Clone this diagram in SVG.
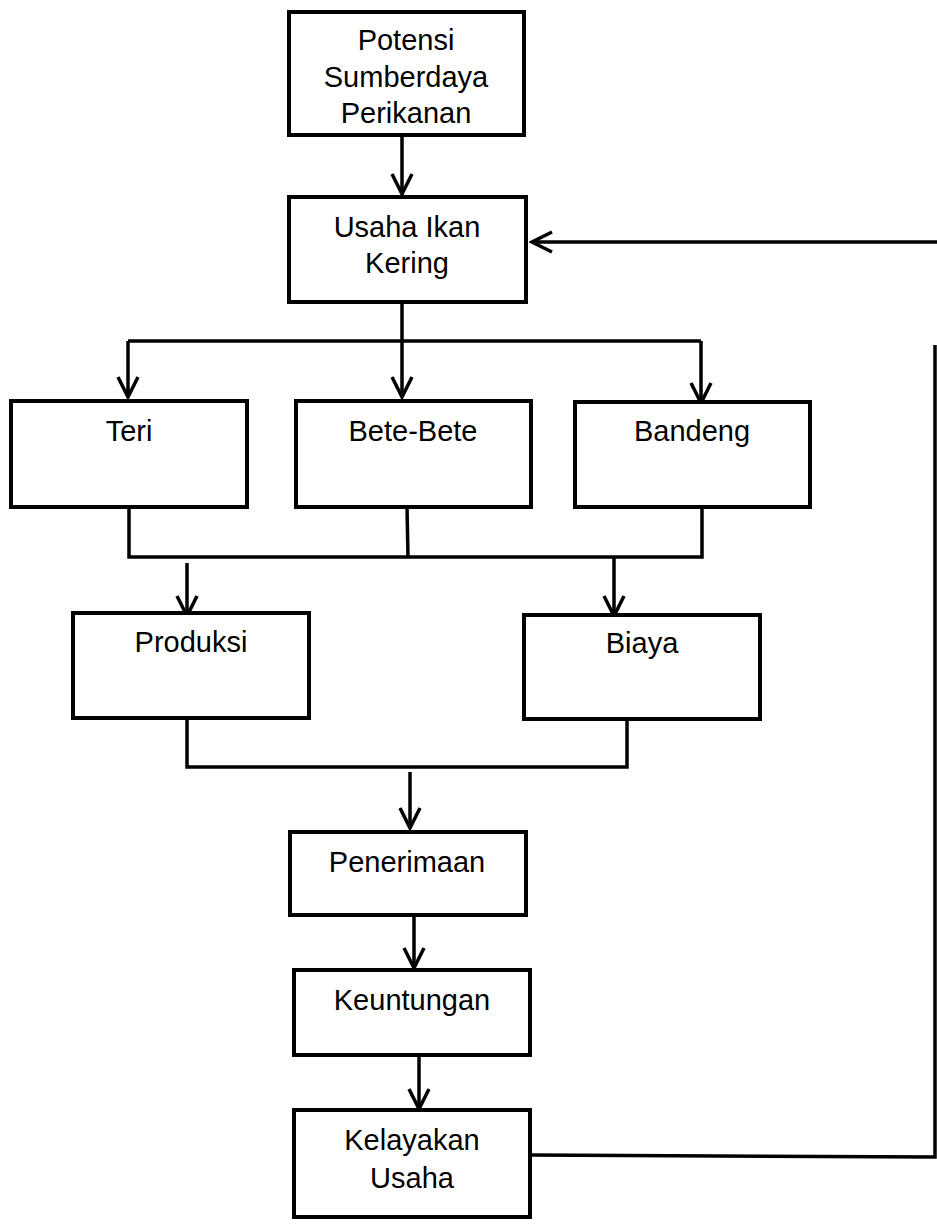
<svg xmlns="http://www.w3.org/2000/svg" width="937" height="1225" viewBox="0 0 937 1225">
<style>
.box{fill:#fff;stroke:#000;stroke-width:4}
.t{font-family:"Liberation Sans",Arial,sans-serif;font-size:29px;fill:#000;text-anchor:middle}
.c{fill:none;stroke:#000;stroke-width:3.5}
.a{fill:none;stroke:#000;stroke-width:3.5;marker-end:url(#v)}
</style>
<defs>
<marker id="v" markerUnits="userSpaceOnUse" viewBox="-24 -13 27 26" refX="0" refY="0" markerWidth="27" markerHeight="26" orient="auto">
<path d="M-20,-10 L0,0 L-20,10" fill="none" stroke="#000" stroke-width="3.5"/>
</marker>
</defs>
<rect width="937" height="1225" fill="#fff"/>
<g id="connectors">
<line class="a" x1="402" y1="135" x2="402" y2="194"/>
<line class="c" x1="402" y1="302" x2="402" y2="341"/>
<line class="c" x1="128" y1="341" x2="701" y2="341"/>
<line class="a" x1="128" y1="341" x2="128" y2="397"/>
<line class="a" x1="402" y1="341" x2="402" y2="397"/>
<line class="a" x1="701" y1="341" x2="701" y2="403"/>
<polyline class="c" points="129,507 129,557 702,557 702,507"/>
<line class="c" x1="407" y1="507" x2="408" y2="557"/>
<line class="a" x1="187" y1="563" x2="187" y2="616"/>
<line class="a" x1="614" y1="557" x2="614" y2="616"/>
<polyline class="c" points="187,718 187,767 627,767 627,718"/>
<line class="a" x1="410" y1="772" x2="410" y2="828"/>
<line class="a" x1="414" y1="915" x2="414" y2="968"/>
<line class="a" x1="419" y1="1055" x2="419" y2="1109"/>
<polyline class="c" points="530,1155 935,1157 935,345"/>
<line class="a" x1="937" y1="242" x2="532" y2="242"/>
</g>
<g id="n1"><rect class="box" x="289" y="12" width="235" height="123"/>
<text class="t" x="406" y="50">Potensi</text><text class="t" x="406" y="87">Sumberdaya</text><text class="t" x="406" y="123">Perikanan</text></g>
<g id="n2"><rect class="box" x="289" y="197" width="237" height="105"/>
<text class="t" x="407" y="237">Usaha Ikan</text><text class="t" x="407" y="273">Kering</text></g>
<g id="n3"><rect class="box" x="11" y="401" width="236" height="106"/><text class="t" x="129" y="441">Teri</text></g>
<g id="n4"><rect class="box" x="296" y="401" width="235" height="106"/><text class="t" x="413" y="441">Bete-Bete</text></g>
<g id="n5"><rect class="box" x="575" y="402" width="235" height="105"/><text class="t" x="692" y="441">Bandeng</text></g>
<g id="n6"><rect class="box" x="73" y="613" width="236" height="105"/><text class="t" x="191" y="652">Produksi</text></g>
<g id="n7"><rect class="box" x="524" y="615" width="236" height="104"/><text class="t" x="642" y="653">Biaya</text></g>
<g id="n8"><rect class="box" x="290" y="832" width="236" height="83"/><text class="t" x="407" y="872">Penerimaan</text></g>
<g id="n9"><rect class="box" x="294" y="970" width="236" height="85"/><text class="t" x="412" y="1010">Keuntungan</text></g>
<g id="n10"><rect class="box" x="294" y="1110" width="236" height="107"/>
<text class="t" x="412" y="1150">Kelayakan</text><text class="t" x="412" y="1188">Usaha</text></g>
</svg>
